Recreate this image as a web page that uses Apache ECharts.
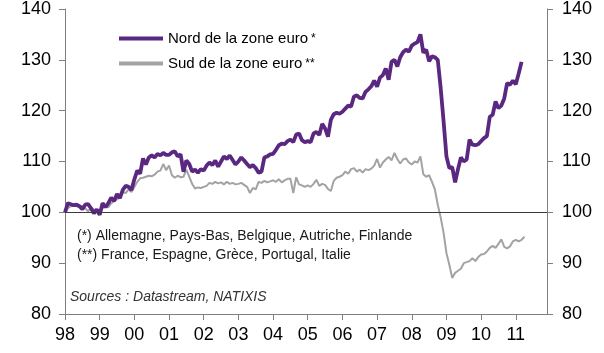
<!DOCTYPE html>
<html>
<head>
<meta charset="utf-8">
<script src="https://cdn.jsdelivr.net/npm/echarts@6/dist/echarts.min.js"></script>
<style>
  html, body { margin: 0; padding: 0; background: #fff; }
  #chart { width: 604px; height: 353px; }
</style>
</head>
<body>
<div id="chart"></div>
<script>
// Monthly index, Jan 1998 = 100. Nord runs to Mar 2011, Sud to Apr 2011.
const firstYear = 1998;
const yearTicks = [1998, 1999, 2000, 2001, 2002, 2003, 2004, 2005, 2006, 2007, 2008, 2009, 2010, 2011];

const nordLabel = "Nord de la zone euro";
const sudLabel = "Sud de la zone euro";

const nordValues = [
  100.0, 101.8, 101.6, 101.4, 101.5, 101.2, 100.6, 101.5, 101.6, 100.8, 99.8, 100.6,   // 98
  99.5, 101.8, 101.0, 101.8, 102.9, 102.2, 103.6, 102.8, 104.4, 105.2, 105.0, 104.4,    // 99
  106.5, 108.2, 107.6, 110.6, 109.4, 110.8, 111.2, 110.8, 111.5, 111.2, 111.7, 111.3,   // 00
  111.3, 111.8, 112.0, 111.0, 111.4, 108.0, 110.2, 109.5, 108.0, 108.4, 107.8, 108.5,   // 01
  108.2, 109.2, 109.8, 109.3, 110.2, 109.0, 110.0, 111.0, 110.5, 111.2, 110.3, 109.4,   // 02
  110.0, 110.8, 110.2, 109.5, 108.9, 109.3, 108.7, 107.8, 108.0, 110.8, 111.0, 111.4,   // 03
  111.5, 112.3, 113.2, 113.5, 113.4, 114.0, 114.3, 113.8, 115.3, 115.5, 114.2, 113.8,   // 04
  114.0, 113.8, 115.5, 115.8, 115.2, 117.4, 116.5, 114.9, 118.2, 119.3, 119.6, 119.4,   // 05
  119.8, 120.4, 121.0, 120.8, 122.8, 123.0, 122.5, 122.4, 123.7, 124.2, 124.8, 125.9,   // 06
  124.7, 126.5, 127.0, 128.3, 126.1, 129.6, 130.0, 128.7, 130.5, 131.5, 132.0, 131.6,   // 07
  132.8, 133.2, 133.5, 135.0, 131.4, 132.0, 129.7, 130.7, 130.5, 130.0, 124.5, 118.0,   // 08
  111.0, 108.7, 108.9, 105.9, 108.5, 110.8, 110.0, 110.4, 114.3, 113.3, 113.2, 113.4,   // 09
  114.0, 114.6, 115.0, 118.8, 119.2, 121.8, 120.5, 121.0, 122.4, 125.4, 125.1, 125.9,   // 10
  125.2, 127.3, 129.6                                                                   // 11
];

const sudValues = [
  100.0, 100.8, 101.2, 101.3, 101.2, 101.3, 101.2, 100.8, 100.2, 101.0, 100.5, 100.2,   // 98
  100.3, 100.8, 101.2, 101.0, 101.8, 102.2, 102.6, 103.5, 104.0, 103.8, 104.5, 104.0,   // 99
  105.0, 106.0, 106.7, 106.8, 107.0, 107.2, 107.1, 107.4, 108.0, 108.2, 109.5, 108.3,   // 00
  109.2, 107.3, 106.8, 107.2, 106.9, 107.0, 108.4, 107.0, 105.6, 104.7, 104.9, 104.8,   // 01
  105.0, 105.2, 105.8, 105.6, 106.0, 105.7, 105.9, 105.5, 106.0, 105.6, 105.8, 105.5,   // 02
  105.6, 105.8, 105.4, 105.0, 103.8, 104.8, 104.5, 106.0, 105.8, 106.2, 105.9, 106.1,   // 03
  106.3, 106.0, 106.5, 105.9, 106.3, 106.6, 106.6, 103.8, 106.9, 105.5, 105.3, 105.0,   // 04
  105.3, 105.0, 105.6, 106.4, 105.2, 105.6, 105.4, 104.6, 104.2, 106.2, 106.8, 107.0,   // 05
  107.3, 108.0, 107.6, 108.5, 108.7, 108.0, 108.4, 107.8, 108.5, 108.3, 108.6, 109.2,   // 06
  110.5, 108.8, 109.8, 110.4, 110.9, 110.2, 111.7, 110.5, 109.6, 110.4, 110.6, 109.8,   // 07
  109.4, 110.0, 109.8, 111.0, 107.5, 107.0, 107.3, 106.0, 104.5, 101.5, 99.0, 96.0,     // 08
  92.0, 89.7, 87.1, 88.1, 88.5, 88.9, 90.0, 90.2, 90.4, 91.0, 90.4, 91.2,               // 09
  91.7, 91.8, 92.3, 93.0, 93.4, 93.0, 93.8, 94.7, 93.2, 92.9, 93.3, 94.3,               // 10
  94.6, 94.3, 94.6, 95.2                                                                // 11
];

const noteLines = [
  "(*) Allemagne, Pays-Bas, Belgique, Autriche, Finlande",
  "(**) France, Espagne, Grèce, Portugal, Italie",
];
const sourceText = "Sources : Datastream, NATIXIS";

const toPairs = (vals) => vals.map((v, i) => [firstYear + i / 12, v]);
const FONT = "Liberation Sans, Arial, sans-serif";
const axisGrey = "#7f7f7f";
const nordColor = "#5a2781";
const sudColor = "#a3a3a3";

const yAxisBase = {
  type: "value", min: 80, max: 140, interval: 10,
  axisLine: { show: true, lineStyle: { color: axisGrey, width: 1 } },
  axisTick: { show: true, length: 6, lineStyle: { color: axisGrey } },
  axisLabel: { color: "#000", fontSize: 18, fontFamily: FONT },
  splitLine: { show: false },
};

const chart = echarts.init(document.getElementById("chart"));
chart.setOption({
  animation: false,
  textStyle: { fontFamily: FONT },
  grid: { left: 65, right: 57, top: 9, bottom: 39 },
  xAxis: {
    type: "value", min: 1998, max: 2011.9,
    axisLine: { show: true, onZero: false, lineStyle: { color: axisGrey } },
    axisTick: { show: true, length: 6, customValues: yearTicks, lineStyle: { color: axisGrey } },
    axisLabel: {
      customValues: yearTicks, color: "#000", fontSize: 18, fontFamily: FONT, margin: 12,
      formatter: (v) => String(Math.round(v) % 100).padStart(2, "0"),
    },
    splitLine: { show: false },
  },
  yAxis: [
    Object.assign({}, yAxisBase, { position: "left", axisLabel: Object.assign({}, yAxisBase.axisLabel, { margin: 14 }) }),
    Object.assign({}, yAxisBase, { position: "right", axisLabel: Object.assign({}, yAxisBase.axisLabel, { margin: 15 }) }),
  ],
  legend: {
    // plain bars as keys (no point marker), like the original
    data: [
      { name: nordLabel, icon: "rect", itemStyle: { color: nordColor } },
      { name: sudLabel, icon: "rect", itemStyle: { color: sudColor } },
    ],
    orient: "vertical", left: 114, top: 26,
    itemWidth: 44, itemHeight: 4, itemGap: 10,
    formatter: (name) => name === nordLabel ? name + "{s|*}" : name + "{s|**}",
    textStyle: {
      color: "#000", fontSize: 15, fontFamily: FONT, lineHeight: 14,
      rich: { s: { fontSize: 12, padding: [0, 0, 0, 3], fontFamily: FONT } },
    },
  },
  series: [
    {
      name: sudLabel, type: "line", data: toPairs(sudValues), yAxisIndex: 0,
      showSymbol: false, symbol: "none",
      lineStyle: { color: sudColor, width: 2 }, itemStyle: { color: sudColor },
      markLine: {
        silent: true, symbol: "none", data: [{ yAxis: 100 }],
        lineStyle: { color: "#3a3a3a", width: 1, type: "solid" }, label: { show: false },
      },
    },
    {
      name: nordLabel, type: "line", data: toPairs(nordValues), yAxisIndex: 0,
      showSymbol: false, symbol: "none",
      lineStyle: { color: nordColor, width: 3.8 }, itemStyle: { color: nordColor },
    },
  ],
  graphic: [
    { type: "text", left: 77, top: 229, style: { text: noteLines[0], fill: "#1a1a1a", font: "14px " + FONT } },
    { type: "text", left: 77, top: 248, style: { text: noteLines[1], fill: "#1a1a1a", font: "14px " + FONT } },
    { type: "text", left: 70, top: 290, style: { text: sourceText, fill: "#333", font: "italic 14px " + FONT } },
  ],
});
</script>
</body>
</html>
